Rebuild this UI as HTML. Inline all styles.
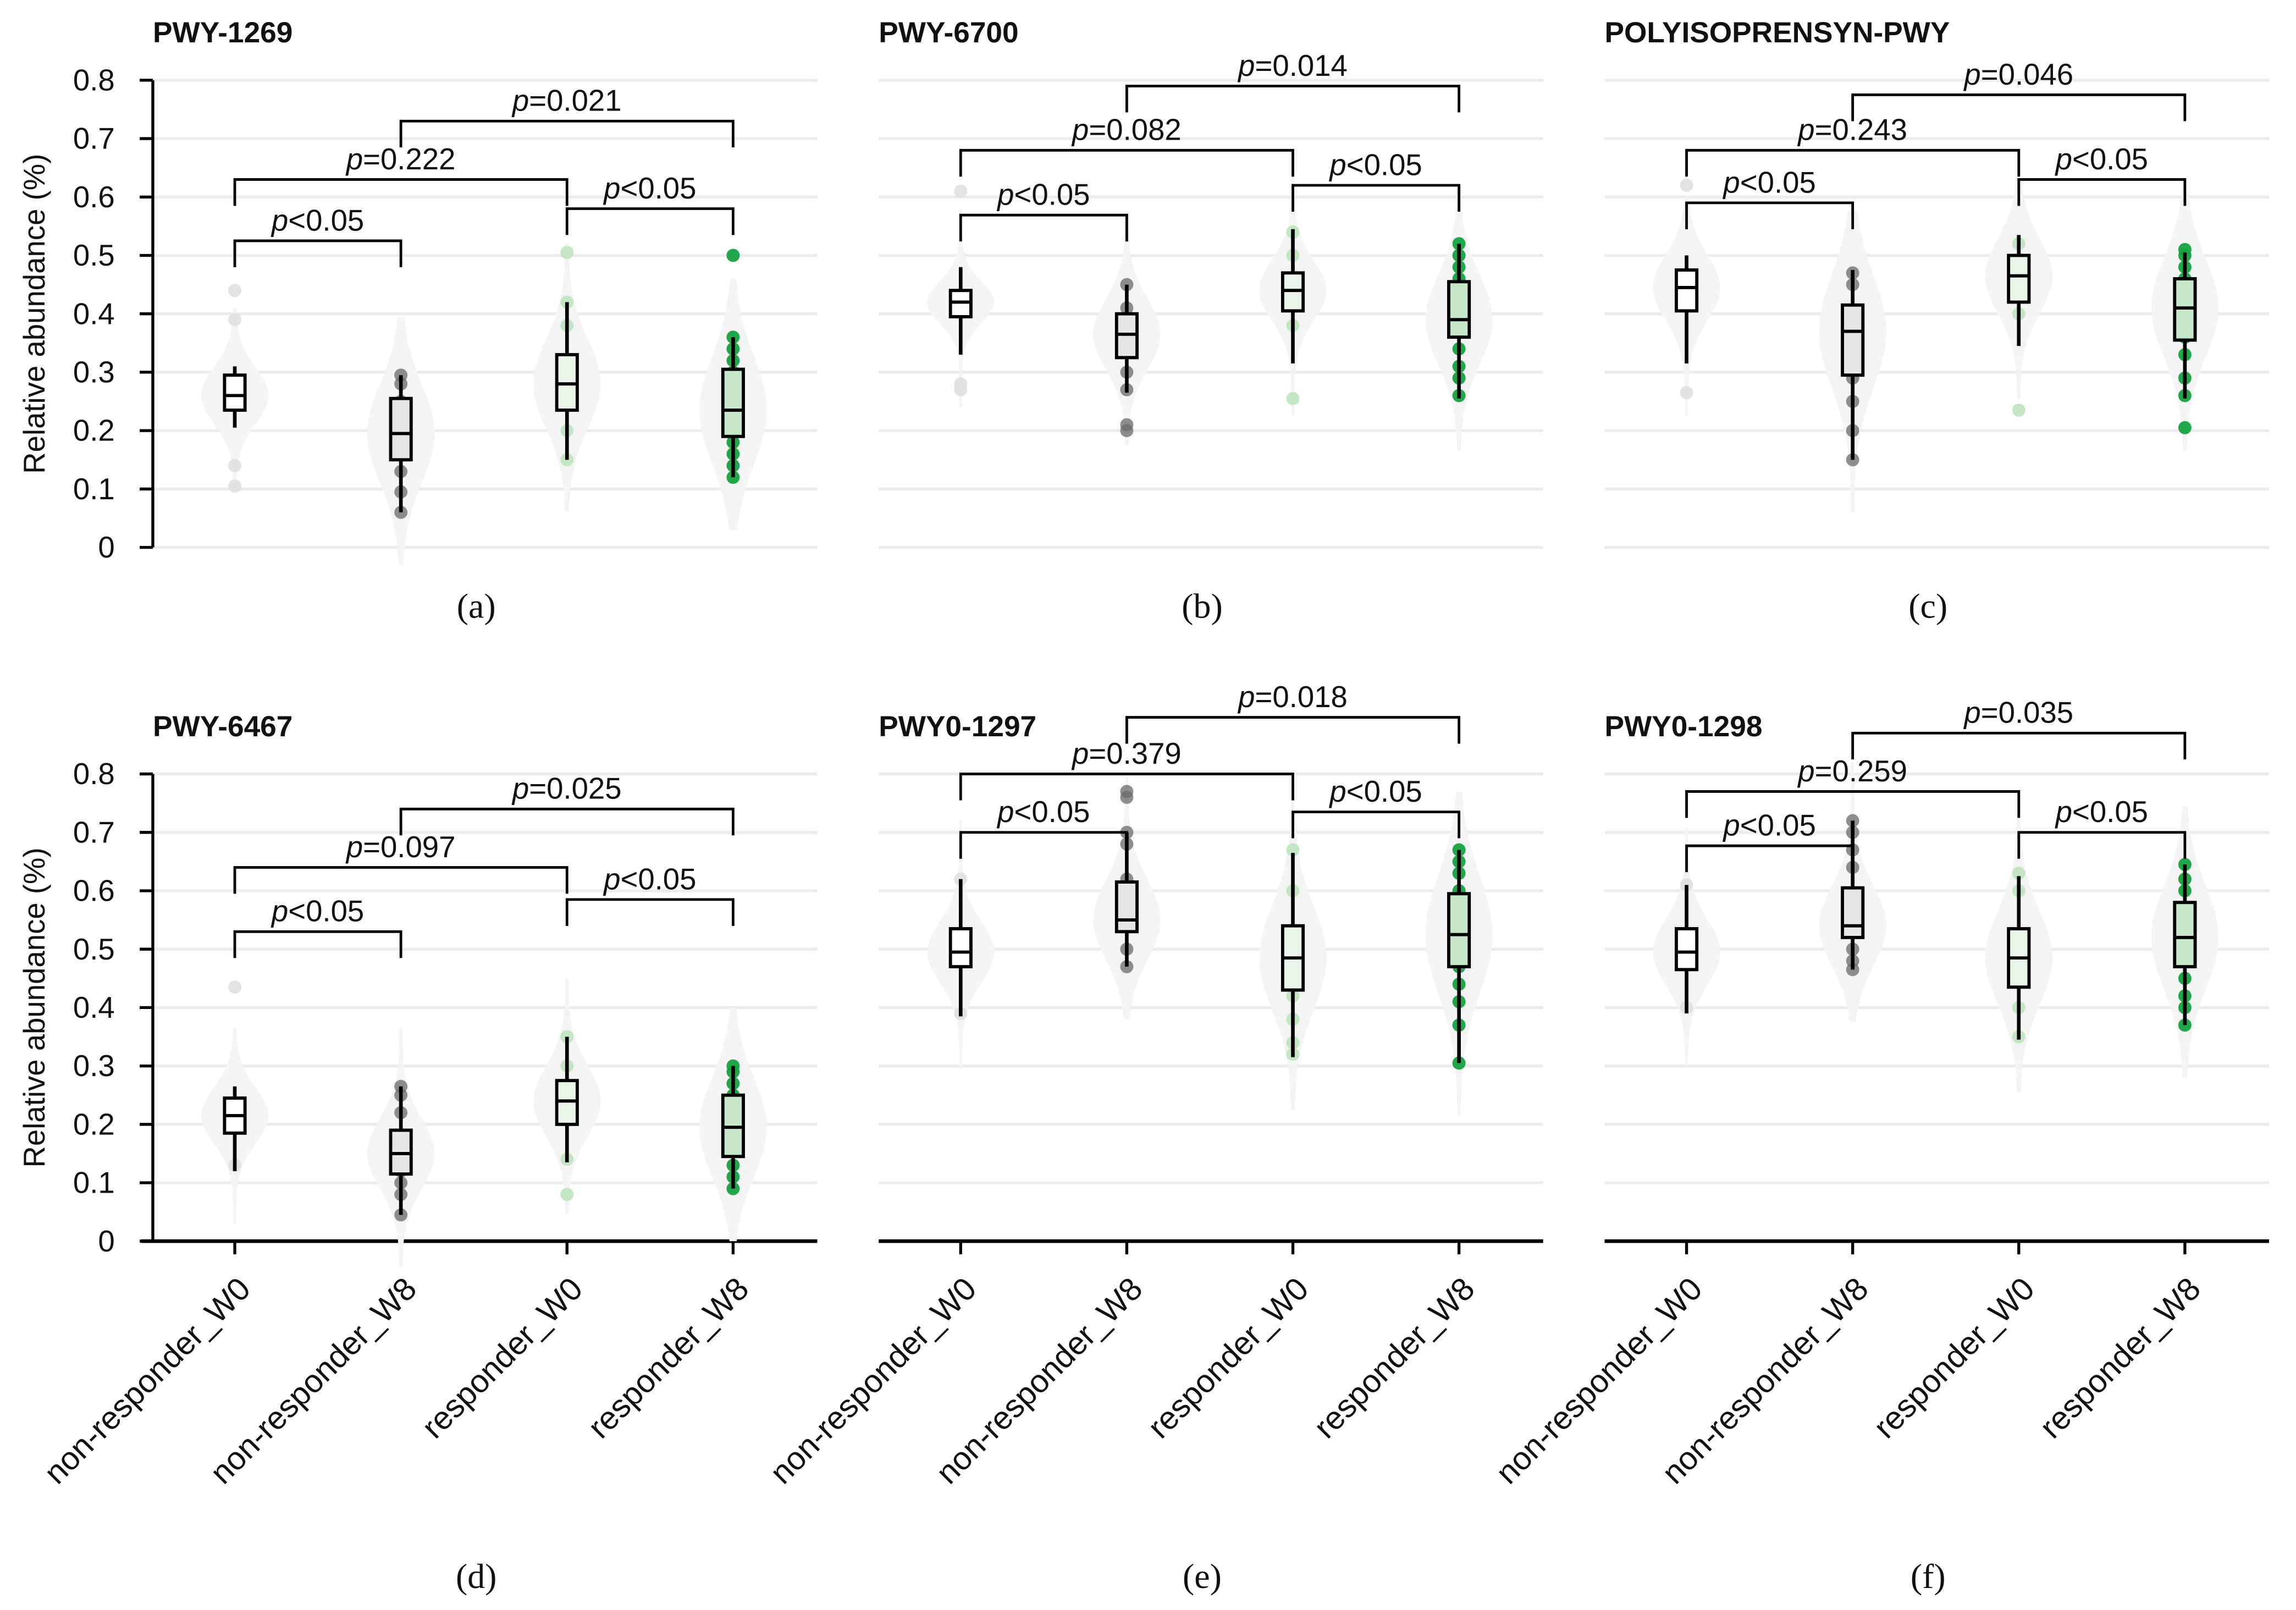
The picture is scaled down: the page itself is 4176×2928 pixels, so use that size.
<!DOCTYPE html>
<html><head><meta charset="utf-8">
<style>
html,body{margin:0;padding:0;background:#fff;}
svg{display:block;}
text{font-family:"Liberation Sans",sans-serif;}
</style></head>
<body>
<svg id="fig" width="4176" height="2928" viewBox="0 0 1568 1100" xmlns="http://www.w3.org/2000/svg"></svg>
<script>
const categories = ["non-responder_W0","non-responder_W8","responder_W0","responder_W8"];
const panelTitles = ["PWY-1269","PWY-6700","POLYISOPRENSYN-PWY","PWY-6467","PWY0-1297","PWY0-1298"];
const panelLetters = ["(a)","(b)","(c)","(d)","(e)","(f)"];
const yTicks = [0,0.1,0.2,0.3,0.4,0.5,0.6,0.7,0.8];
const tickLabels = ["0","0.1","0.2","0.3","0.4","0.5","0.6","0.7","0.8"];
// box stats per panel per group: [whiskerLow, q1, median, q3, whiskerHigh]
const boxA = [[0.205,0.235,0.26,0.295,0.31],[0.06,0.15,0.195,0.255,0.295],[0.15,0.235,0.28,0.33,0.42],[0.12,0.19,0.235,0.305,0.36]];
const boxB = [[0.33,0.395,0.42,0.44,0.48],[0.265,0.325,0.365,0.40,0.45],[0.315,0.405,0.44,0.47,0.545],[0.255,0.36,0.39,0.455,0.52]];
const boxC = [[0.315,0.405,0.445,0.475,0.50],[0.15,0.295,0.37,0.415,0.475],[0.345,0.42,0.465,0.50,0.535],[0.255,0.355,0.41,0.46,0.505]];
const boxD = [[0.12,0.185,0.215,0.245,0.265],[0.045,0.115,0.15,0.19,0.265],[0.135,0.20,0.24,0.275,0.35],[0.09,0.145,0.195,0.25,0.30]];
const boxE = [[0.385,0.47,0.495,0.535,0.62],[0.47,0.53,0.55,0.615,0.70],[0.315,0.43,0.485,0.54,0.665],[0.305,0.47,0.525,0.595,0.67]];
const boxF = [[0.39,0.465,0.495,0.535,0.61],[0.465,0.52,0.54,0.605,0.72],[0.345,0.435,0.485,0.535,0.625],[0.37,0.47,0.52,0.58,0.645]];
// individual points per panel per group
const ptsA = [[0.44,0.39,0.14,0.105,0.26],[0.06,0.095,0.13,0.16,0.2,0.25,0.28,0.295],[0.505,0.42,0.38,0.15,0.2,0.3],[0.5,0.36,0.34,0.32,0.3,0.28,0.26,0.22,0.2,0.18,0.16,0.14,0.12]];
const ptsB = [[0.61,0.27,0.28],[0.2,0.21,0.27,0.3,0.41,0.45],[0.255,0.54,0.38,0.5],[0.52,0.5,0.48,0.46,0.43,0.4,0.37,0.34,0.31,0.29,0.26]];
const ptsC = [[0.62,0.265],[0.15,0.2,0.25,0.29,0.47,0.45],[0.235,0.52,0.4],[0.205,0.26,0.29,0.33,0.36,0.4,0.43,0.46,0.48,0.5,0.51]];
const ptsD = [[0.435,0.13],[0.045,0.08,0.1,0.12,0.22,0.25,0.265],[0.08,0.35,0.3,0.14],[0.09,0.11,0.13,0.16,0.2,0.22,0.25,0.27,0.29,0.3]];
const ptsE = [[0.39,0.62],[0.77,0.76,0.7,0.68,0.62,0.5,0.47],[0.67,0.6,0.42,0.38,0.34,0.32],[0.67,0.65,0.63,0.6,0.52,0.47,0.44,0.41,0.37,0.305]];
const ptsF = [[0.61,0.4],[0.72,0.7,0.67,0.64,0.5,0.48,0.465],[0.63,0.6,0.4,0.35],[0.645,0.62,0.6,0.56,0.45,0.42,0.4,0.37]];
// significance brackets per panel: [groupFrom, groupTo, yValue]
const brA = [[0,1,0.525],[0,2,0.63],[1,3,0.73],[2,3,0.58]];
const brB = [[0,1,0.569],[0,2,0.68],[1,3,0.79],[2,3,0.62]];
const brC = [[0,1,0.59],[0,2,0.68],[1,3,0.775],[2,3,0.63]];
const brD = [[0,1,0.53],[0,2,0.64],[1,3,0.74],[2,3,0.585]];
const brE = [[0,1,0.70],[0,2,0.80],[1,3,0.897],[2,3,0.735]];
const brF = [[0,1,0.677],[0,2,0.77],[1,3,0.87],[2,3,0.70]];
const brLabels = [["<0.05","=0.222","=0.021","<0.05"],["<0.05","=0.082","=0.014","<0.05"],["<0.05","=0.243","=0.046","<0.05"],["<0.05","=0.097","=0.025","<0.05"],["<0.05","=0.379","=0.018","<0.05"],["<0.05","=0.259","=0.035","<0.05"]];

const boxes=[boxA,boxB,boxC,boxD,boxE,boxF];
const pts=[ptsA,ptsB,ptsC,ptsD,ptsE,ptsF];
const brs=[brA,brB,brC,brD,brE,brF];

const NS="http://www.w3.org/2000/svg";
const svg=document.getElementById('fig');
function el(tag,attrs,parent){const e=document.createElementNS(NS,tag);for(const k in attrs)e.setAttribute(k,attrs[k]);(parent||svg).appendChild(e);return e;}

const colX0=[104,600,1096];
const rowY0=[374,848];
const unit=39.9/0.1;
const ptFill=["#e0e0e0","#6a6a6a","#bfe3bf","#13a23f"];
const ptOp=[0.9,0.75,0.9,0.95];
const boxFill=["#ffffff","#e6e6e6","#e8f5e8","#c6e8c8"];

for(let p=0;p<6;p++){
  const col=p%3,row=Math.floor(p/3);
  const ax=colX0[col], base=rowY0[row];
  const y=v=>base-v*unit;
  const xg=i=>ax+56+i*113.5;
  const g=el('g',{});
  
  
  yTicks.forEach(t=>{const l=el('line',{x1:ax,x2:ax+454,y1:y(t),y2:y(t),stroke:'#ececec','stroke-width':2},g);
    });
  const tt=el('text',{x:ax,y:row?503:29,'font-size':20,'font-weight':'bold',fill:'#111'},g);
  tt.textContent=panelTitles[p];
  
  if(col===0){
    const ya=el('line',{x1:ax,x2:ax,y1:y(0.8),y2:base,stroke:'#000','stroke-width':2},g);
    
    yTicks.forEach((t,i)=>{
      const tk=el('line',{x1:ax-9,x2:ax,y1:y(t),y2:y(t),stroke:'#000','stroke-width':2},g);
      
      const tl=el('text',{x:ax-26,y:y(t)+7,'font-size':20.5,'text-anchor':'end',fill:'#111'},g);
      tl.textContent=tickLabels[i];
      
    });
    const yt=el('text',{x:0,y:0,'font-size':20.5,'text-anchor':'middle',fill:'#111',transform:`translate(30,${y(0.4)}) rotate(-90)`},g);
    yt.textContent='Relative abundance (%)';
    
  }
  if(row===1){
    const xa=el('line',{x1:col===0?ax-8:ax,x2:ax+454,y1:base,y2:base,stroke:'#000','stroke-width':2.5},g);
    
    categories.forEach((c,i)=>{
      const tk=el('line',{x1:xg(i),x2:xg(i),y1:base,y2:base+9,stroke:'#000','stroke-width':2},g);
      
      const tl=el('text',{x:0,y:0,'font-size':22,'text-anchor':'end',fill:'#111',transform:`translate(${xg(i)+12},${base+34}) rotate(-45)`},g);
      tl.textContent=c;
      
    });
  }
  categories.forEach((c,i)=>{
    const b=boxes[p][i], cx=xg(i);
    const med=b[2], sd=Math.max(0.03,(b[3]-b[1])*0.8);
    const lo=b[0]-0.09, hi=b[4]+0.1;
    const right=[],left=[];const N=40;
    for(let k=0;k<=N;k++){const v=lo+(hi-lo)*k/N;const w=1+22*Math.exp(-0.5*((v-med)/sd)**2);right.push([cx+w,y(v)]);left.push([cx-w,y(v)]);}
    const d='M'+cx+','+y(lo)+' '+right.map(q=>'L'+q[0].toFixed(1)+','+q[1].toFixed(1)).join(' ')+' L'+cx+','+y(hi)+' '+left.reverse().map(q=>'L'+q[0].toFixed(1)+','+q[1].toFixed(1)).join(' ')+'Z';
    const vi=el('path',{d:d,fill:'#f4f4f4'},g);
    
    pts[p][i].forEach(v=>{const pt=el('circle',{cx:cx,cy:y(v),r:4.5,fill:ptFill[i],'fill-opacity':ptOp[i]},g);
      });
    const wk=el('line',{x1:cx,x2:cx,y1:y(b[0]),y2:y(b[4]),stroke:'#000','stroke-width':2.5},g);
    
    const bx=el('rect',{x:cx-7,y:y(b[3]),width:14,height:y(b[1])-y(b[3]),fill:boxFill[i],stroke:'#000','stroke-width':2.2},g);
    
    const md=el('line',{x1:cx-7,x2:cx+7,y1:y(med),y2:y(med),stroke:'#000','stroke-width':2.2},g);
    
  });
  brs[p].forEach((br,k)=>{
    const x1=xg(br[0]),x2=xg(br[1]),yy=y(br[2]);
    const pl=el('path',{d:`M${x1},${yy+18} V${yy} H${x2} V${yy+18}`,fill:'none',stroke:'#000','stroke-width':1.8},g);
    
    const t=el('text',{x:(x1+x2)/2,y:yy-7,'font-size':20.5,'text-anchor':'middle',fill:'#111'},g);
    const ts=el('tspan',{'font-style':'italic'},t);ts.textContent='p';
    const ts2=el('tspan',{},t);ts2.textContent=brLabels[p][k];
    
  });
  const lt=el('text',{x:ax+221,y:row?1085:422,'font-size':24,'text-anchor':'middle',fill:'#111'},g);
  lt.setAttribute('style','font-family:"Liberation Serif",serif');
  lt.textContent=panelLetters[p];
  
}
</script>
</body></html>
